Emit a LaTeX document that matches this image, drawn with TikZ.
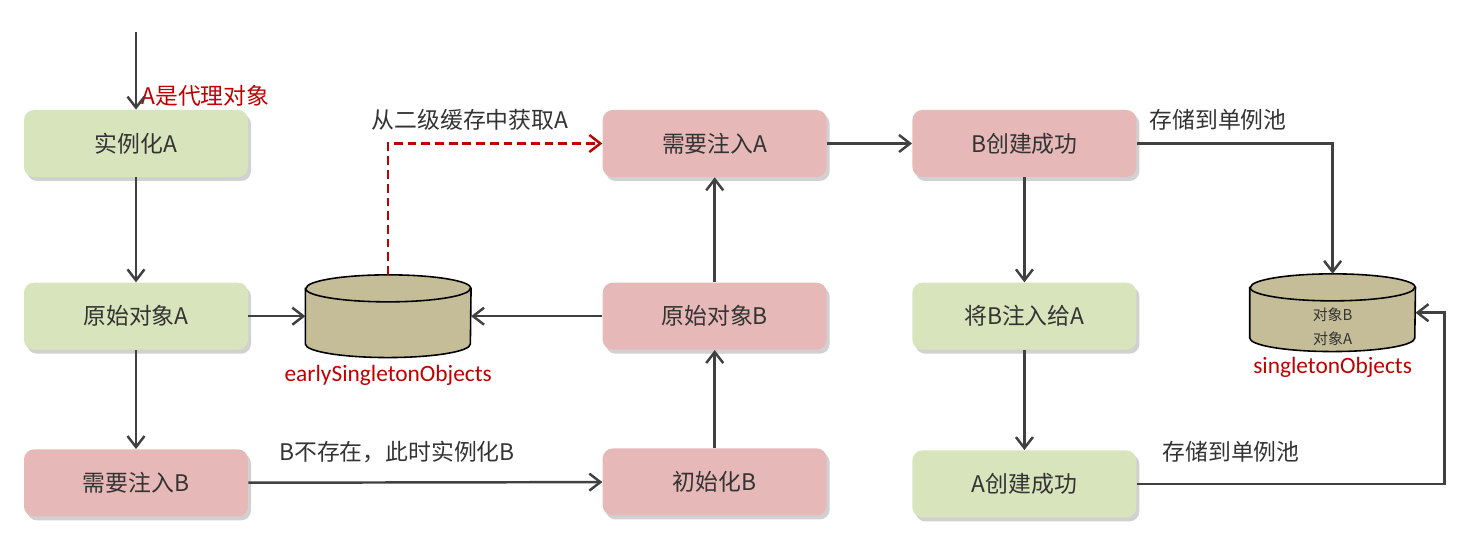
\documentclass[tikz,border=0pt]{standalone}
\usepackage{fontspec}
\setmainfont{Noto Sans CJK SC}
\newfontfamily\latinfont{Carlito}
\usetikzlibrary{positioning,arrows.meta,shadows,calc}
\definecolor{boxgreen}{HTML}{D8E4BC}
\definecolor{boxpink}{HTML}{E6B9B8}
\definecolor{cachetan}{HTML}{C4BD97}
\definecolor{notered}{HTML}{C00000}
\definecolor{linegray}{HTML}{404040}
\tikzset{
	>={Straight Barb[length=2.2mm,width=3.4mm]}
}

\begin{document}
\begin{tikzpicture}[
node distance = 0mm,
every node/.style = {
	font = \fontsize{13}{16}\selectfont,
	text = black!80
},
box/.style = {
	rounded corners = 2mm,
	minimum width = 4.48cm,
	minimum height = 1.34cm,
	drop shadow = {shadow xshift=0.6mm, shadow yshift=-0.8mm, opacity=0.18, fill=black}
},
greenbox/.style = {
	box,
	fill = boxgreen
},
pinkbox/.style = {
	box,
	fill = boxpink
},
cache/.style = {
	inner sep = 0pt,
	minimum width = 3.3cm,
	minimum height = 1.64cm
},
cacheline/.style = {
	draw = black,
	line width = 0.9pt,
	fill = cachetan
},
cacheitems/.style = {
	inner sep = 0pt,
	align = center,
	font = \fontsize{8.5}{14}\selectfont
},
cachename/.style = {
	inner sep = 0pt,
	text = notered,
	font = \latinfont\fontsize{13.3}{16}\selectfont
},
note/.style = {
	inner sep = 0pt
},
flow/.style = {
	->,
	draw = linegray,
	line width = 1.4pt
}
]
\useasboundingbox (0,0) rectangle (29.68,-11.12);

% left column
\node (instA) [greenbox] at (2.72,-2.87) {实例化A};
\node (rawA) [greenbox, below = 2.1cm of instA] {原始对象A};
\node (needB) [pinkbox, below = 1.98cm of rawA] {需要注入B};
\coordinate (start) at (2.72,-0.64);

% middle column
\node (needA) [pinkbox, right = 7.08cm of instA] {需要注入A};
\node (rawB) [pinkbox, below = 2.1cm of needA] {原始对象B};
\node (initB) [pinkbox, below = 1.96cm of rawB] {初始化B};

% right column
\node (bDone) [pinkbox, right = 1.7cm of needA] {B创建成功};
\node (injectB) [greenbox, below = 2.1cm of bDone] {将B注入给A};
\node (aDone) [greenbox, below = 2cm of injectB] {A创建成功};

% caches
\node (early) [cache, right = 1.14cm of rawA] {};
\node (single) [cache, minimum height = 1.54cm, right = 2.26cm of injectB, yshift = 0.07cm] {};
\foreach \db in {early, single} {
	\path[cacheline] ($(\db.north west)+(0,-0.27)$) -- ($(\db.south west)+(0,0.27)$)
		arc[start angle=180, end angle=360, x radius=1.65cm, y radius=0.27cm]
		-- ($(\db.north east)+(0,-0.27)$)
		arc[start angle=0, end angle=180, x radius=1.65cm, y radius=0.27cm] -- cycle;
	\draw[line width = 0.9pt] ($(\db.north west)+(0,-0.27)$)
		arc[start angle=180, end angle=360, x radius=1.65cm, y radius=0.27cm];
}
\node (singleItems) [cacheitems] at ($(single.center)+(0,-0.28)$) {对象B\\对象A};
\node (earlyName) [cachename, below = 0.14cm of early] {earlySingletonObjects};
\node (singleName) [cachename, below = 0.1cm of single] {singletonObjects};

% labels
\node (proxyNote) [note, text = notered, anchor = south west] at ($(instA.north)+(0.1,0.05)$) {A是代理对象};
\node (fetchNote) [note] at (9.4,-2.4) {从二级缓存中获取A};
\node (createNote) [note] at (7.94,-9.04) {B不存在，此时实例化B};
\node (storeNoteB) [note] at (24.36,-2.4) {存储到单例池};
\node (storeNoteA) [note] at (24.62,-9.04) {存储到单例池};

% connectors
\draw[flow] (start) -- (instA);
\draw[flow] (instA) -- (rawA);
\draw[flow] (rawA) -- (needB);
\draw[flow] (rawA) -- (early);
\draw[flow] (rawB) -- (early);
\draw[flow] (needB) -- (initB);
\draw[flow] (initB) -- (rawB);
\draw[flow] (rawB) -- (needA);
\draw[flow] (needA) -- (bDone);
\draw[flow] (bDone) -- (injectB);
\draw[flow] (injectB) -- (aDone);
\draw[flow, draw = notered, dash pattern = on 5pt off 2.8pt] (early.north) |- (needA.west);
\draw[flow] (bDone.east) -| (single.north);
\draw[flow] (aDone.east) -| ($(single.east)+(0.58,0)$) -- (single.east);

\end{tikzpicture}
\end{document}
